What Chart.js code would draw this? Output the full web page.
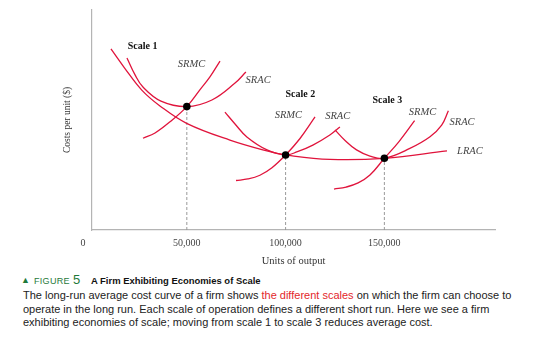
<!DOCTYPE html>
<html>
<head>
<meta charset="utf-8">
<script src="https://cdn.jsdelivr.net/npm/chart.js@4.4.1/dist/chart.umd.min.js"></script>
<style>
  html, body { margin:0; padding:0; background:#fff; }
  #wrap { position:relative; width:533px; height:337px; overflow:hidden; }
  #ch { position:absolute; left:0; top:0; }
  .fig { position:absolute; top:274px; left:0; width:533px; height:14px; font-family:"Liberation Sans", Arial, sans-serif; white-space:nowrap; }
  .fig span { position:absolute; line-height:14px; }
  .tri { left:21px; top:-1px; font-size:9px; color:#1f7a3a; }
  .fg { left:34px; font-size:9px; color:#1f7a3a; letter-spacing:.3px; }
  .num { left:73px; top:-1.5px; font-size:13px; color:#1f7a3a; }
  .ttl { left:91px; font-size:9.45px; font-weight:bold; color:#111; }
  .body { position:absolute; left:23px; top:289px; font-family:"Liberation Sans", Arial, sans-serif; font-size:11px; line-height:13.6px; color:#222; white-space:nowrap; }
  .hl { color:#e3262b; }
</style>
</head>
<body>
<div id="wrap">
  <canvas id="ch" width="533" height="270"></canvas>
  <div class="fig"><span class="tri">&#9650;</span><span class="fg">FIGURE</span><span class="num">5</span><span class="ttl">A Firm Exhibiting Economies of Scale</span></div>
  <div class="body">The long-run average cost curve of a firm shows <span class="hl">the different scales</span> on which the firm can choose to<br>operate in the long run. Each scale of operation defines a different short run. Here we see a firm<br>exhibiting economies of scale; moving from scale 1 to scale 3 reduces average cost.</div>
</div>
<script>
// output (units) and cost per unit for each curve
const lracX = [11600, 18700, 27200, 36400, 49900, 71800, 92100, 100000, 122400, 150000, 181700];
const lracY = [82.3, 73.4, 63.6, 56.4, 48.5, 40.9, 35.6, 34.1, 32.1, 32.6, 36.0];

const srac1X = [19700, 23800, 27800, 36900, 50000, 62700, 74400, 79900];
const srac1Y = [78.2, 70.5, 65.0, 58.6, 56.1, 59.1, 66.8, 71.8];
const srmc1X = [27800, 33900, 41500, 50000, 56700, 61700, 66800];
const srmc1Y = [41.7, 44.1, 49.2, 56.1, 63.8, 69.6, 76.8];

const srac2X = [69300, 74400, 80400, 90600, 100000, 106000, 113800, 122400, 127500];
const srac2Y = [53.6, 48.2, 42.3, 36.4, 34.1, 35.6, 38.6, 43.2, 46.8];
const srmc2X = [74900, 80900, 87000, 93100, 100000, 107300, 114900];
const srmc2Y = [22.5, 23.2, 24.9, 28.3, 34.1, 41.6, 51.4];

const srac3X = [125000, 130100, 135900, 142700, 150000, 162900, 173100, 179000, 182400];
const srac3Y = [45.5, 40.7, 36.4, 33.6, 32.6, 37.1, 42.4, 47.7, 54.2];
const srmc3X = [124500, 130600, 136700, 142700, 150000, 157400, 165300];
const srmc3Y = [18.6, 19.5, 21.4, 25.0, 32.6, 40.2, 49.7];

// minimum SRAC of each scale
const dotX = [50000, 100000, 150000];
const dotY = [56.1, 34.1, 32.6];

const xTicks = [50000, 100000, 150000];

const RED = '#e0143c';
const SERIF = '"Liberation Serif", "Times New Roman", serif';

const pts = (xs, ys) => xs.map((x, i) => ({ x, y: ys[i] }));
const curve = (xs, ys) => ({
  data: pts(xs, ys), showLine: true, borderColor: RED, borderWidth: 1.3,
  pointRadius: 0, tension: 0.4, order: 1
});

const notes = [
  { t: 'Scale 1', x: 27600, y: 83.3, bold: true },
  { t: 'SRMC', x: 52400, y: 75.3 },
  { t: 'SRAC', x: 86100, y: 67.9 },
  { t: 'Scale 2', x: 107500, y: 61.8, bold: true },
  { t: 'SRMC', x: 101400, y: 52.0 },
  { t: 'SRAC', x: 126400, y: 51.5 },
  { t: 'Scale 3', x: 151500, y: 58.8, bold: true },
  { t: 'SRMC', x: 169300, y: 53.6 },
  { t: 'SRAC', x: 189300, y: 48.8 },
  { t: 'LRAC', x: 193300, y: 35.9 }
];

const notePlugin = {
  id: 'notes',
  afterDatasetsDraw(chart) {
    const { ctx, scales: { x, y } } = chart;
    ctx.save();
    ctx.textAlign = 'center';
    ctx.textBaseline = 'middle';
    notes.forEach(n => {
      ctx.font = n.bold ? `bold 10px ${SERIF}` : `italic 10.5px ${SERIF}`;
      ctx.fillStyle = n.bold ? '#111' : '#444';
      ctx.fillText(n.t, x.getPixelForValue(n.x), y.getPixelForValue(n.y));
    });
    // origin label, left of the axis corner
    ctx.font = `10px ${SERIF}`;
    ctx.fillStyle = '#444';
    ctx.fillText('0', x.left - 9, y.bottom + 13);
    ctx.restore();
  }
};

const drops = dotX.map((x, i) => ({
  data: [{ x, y: 0 }, { x, y: dotY[i] }], showLine: true, borderColor: '#9a9a9a',
  borderWidth: 1, borderDash: [3, 2], pointRadius: 0, order: 2
}));

new Chart(document.getElementById('ch'), {
  type: 'scatter',
  data: {
    datasets: [
      { data: pts(dotX, dotY), backgroundColor: '#000', borderWidth: 0, pointRadius: 3.8, order: 0 },
      curve(lracX, lracY),
      curve(srac1X, srac1Y), curve(srmc1X, srmc1Y),
      curve(srac2X, srac2Y), curve(srmc2X, srmc2Y),
      curve(srac3X, srac3Y), curve(srmc3X, srmc3Y),
      ...drops
    ]
  },
  options: {
    responsive: false, animation: false, devicePixelRatio: 1,
    layout: { padding: { left: 0, top: 10, right: 38, bottom: 0 } },
    plugins: { legend: { display: false }, tooltip: { enabled: false } },
    scales: {
      x: {
        type: 'linear', min: 2000, max: 206000,
        grid: { display: false, drawTicks: false },
        border: { color: '#b4b4b4', width: 1.2 },
        afterBuildTicks: s => { s.ticks = xTicks.map(v => ({ value: v })); },
        ticks: { padding: 7, color: '#444', font: { family: SERIF, size: 10 },
                 callback: v => v.toLocaleString('en-US') },
        title: { display: true, text: 'Units of output', color: '#333',
                 font: { family: SERIF, size: 10.5 }, padding: { top: 0, bottom: 2 } },
        afterFit: s => { s.height = 40; }
      },
      y: {
        min: 0, max: 100,
        grid: { display: false, drawTicks: false },
        border: { color: '#b4b4b4', width: 1.2 },
        ticks: { display: false },
        title: { display: true, text: 'Costs per unit ($)', color: '#333',
                 font: { family: SERIF, size: 9.5 }, padding: { top: 62, bottom: 0 } },
        afterFit: s => { s.width = 92; }
      }
    }
  },
  plugins: [notePlugin]
});
</script>
</body>
</html>
